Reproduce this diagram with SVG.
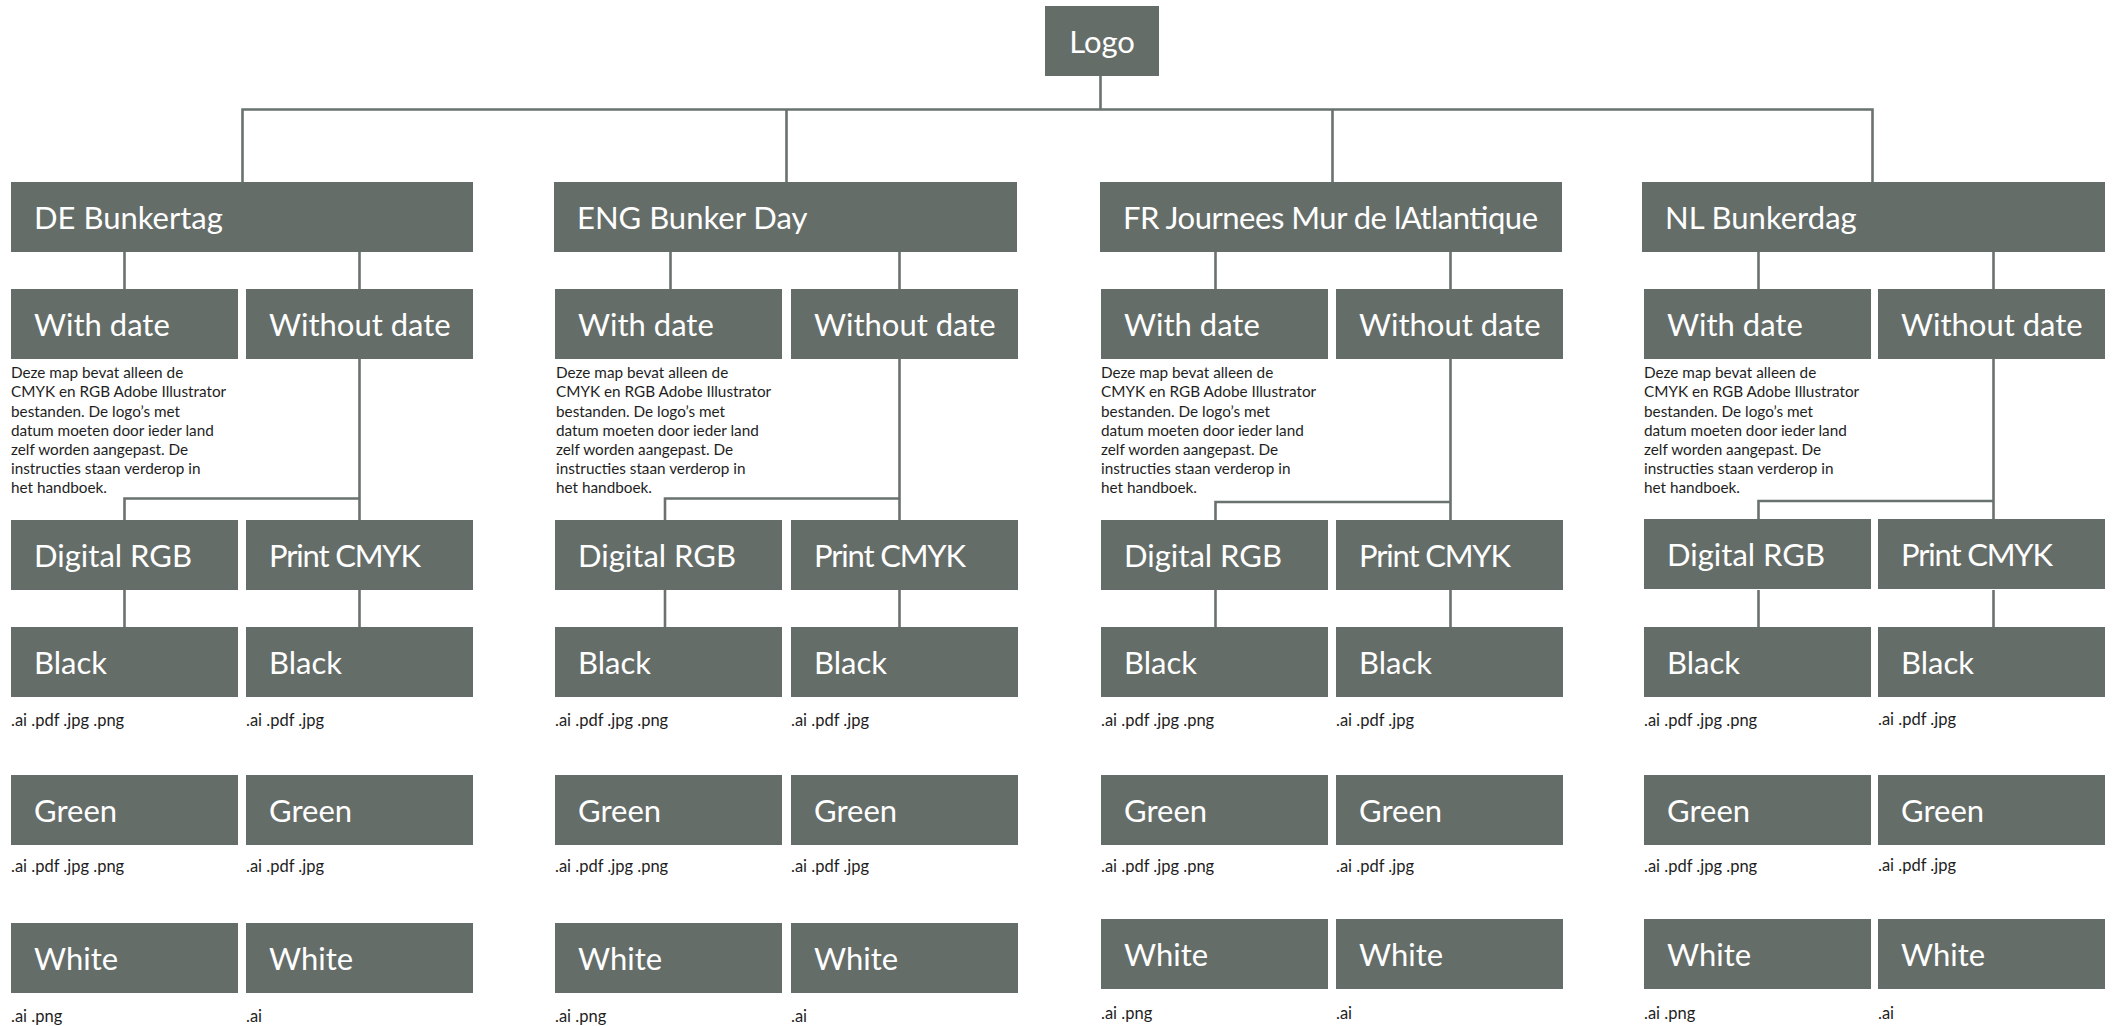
<svg xmlns="http://www.w3.org/2000/svg" width="2114" height="1026" viewBox="0 0 2114 1026">
<style>
.box{fill:#656d69}
.lbl{font-family:Lato,"Liberation Sans",sans-serif;font-size:31px;fill:#ffffff}
.desc{font-family:Lato,"Liberation Sans",sans-serif;font-size:15.3px;fill:#1e1e1e}
.ext{font-family:Lato,"Liberation Sans",sans-serif;font-size:16.5px;fill:#1e1e1e}
.conn{stroke:#6a726e;stroke-width:2.6;fill:none}
</style>
<rect width="2114" height="1026" fill="#ffffff"/>
<g id="connectors">
<path class="conn" d="M1100.5,76 V109.5 M242.5,182 V109.5 H1872.5 V182 M786.5,109.5 V182 M1332.5,109.5 V182"/>
<path class="conn" d="M124.5,252 V289 M359.5,252 V289 M359.5,359 V520 M124.5,520 V498.5 H359.5 M124.5,590 V627 M359.5,590 V627"/>
<path class="conn" d="M670.5,252 V289 M899.5,252 V289 M899.5,359 V520 M665,520 V498.5 H899.5 M665,590 V627 M899.5,590 V627"/>
<path class="conn" d="M1215.5,252 V289 M1450.5,252 V289 M1450.5,359 V520 M1215.5,520 V502 H1450.5 M1215.5,590 V627 M1450.5,590 V627"/>
<path class="conn" d="M1758.5,252 V289 M1993.5,252 V289 M1993.5,359 V520 M1758.5,520 V501 H1993.5 M1758.5,590 V627 M1993.5,590 V627"/>
</g>
<g id="logo"><rect class="box" x="1045" y="6" width="114" height="70"/><text class="lbl" x="1102" y="53" text-anchor="middle">Logo</text></g>

<g id="de"><rect class="box" x="11" y="182" width="462" height="70"/><text class="lbl" x="34" y="229">DE Bunkertag</text></g>
<g id="de-with"><rect class="box" x="11" y="289" width="227" height="70"/><text class="lbl" x="34" y="336">With date</text></g>
<g id="de-without"><rect class="box" x="246" y="289" width="227" height="70"/><text class="lbl" x="269" y="336">Without date</text></g>
<g id="de-note"><text class="desc" x="11" y="378.3"><tspan x="11">Deze map bevat alleen de</tspan><tspan x="11" dy="19.17">CMYK en RGB Adobe Illustrator</tspan><tspan x="11" dy="19.17">bestanden. De logo’s met</tspan><tspan x="11" dy="19.17">datum moeten door ieder land</tspan><tspan x="11" dy="19.17">zelf worden aangepast. De</tspan><tspan x="11" dy="19.17">instructies staan verderop in</tspan><tspan x="11" dy="19.17">het handboek.</tspan></text></g>
<g id="de-rgb"><rect class="box" x="11" y="520" width="227" height="70"/><text class="lbl" x="34" y="567">Digital RGB</text></g>
<g id="de-cmyk"><rect class="box" x="246" y="520" width="227" height="70"/><text class="lbl" x="269" y="567" textLength="152">Print CMYK</text></g>
<g id="de-rgb-black"><rect class="box" x="11" y="627" width="227" height="70"/><text class="lbl" x="34" y="674">Black</text><text class="ext" x="11" y="726">.ai .pdf .jpg .png</text></g>
<g id="de-cmyk-black"><rect class="box" x="246" y="627" width="227" height="70"/><text class="lbl" x="269" y="674">Black</text><text class="ext" x="246" y="726">.ai .pdf .jpg</text></g>
<g id="de-rgb-green"><rect class="box" x="11" y="775" width="227" height="70"/><text class="lbl" x="34" y="822">Green</text><text class="ext" x="11" y="872">.ai .pdf .jpg .png</text></g>
<g id="de-cmyk-green"><rect class="box" x="246" y="775" width="227" height="70"/><text class="lbl" x="269" y="822">Green</text><text class="ext" x="246" y="872">.ai .pdf .jpg</text></g>
<g id="de-rgb-white"><rect class="box" x="11" y="923" width="227" height="70"/><text class="lbl" x="34" y="970">White</text><text class="ext" x="11" y="1022">.ai .png</text></g>
<g id="de-cmyk-white"><rect class="box" x="246" y="923" width="227" height="70"/><text class="lbl" x="269" y="970">White</text><text class="ext" x="246" y="1022">.ai</text></g>

<g id="eng"><rect class="box" x="554" y="182" width="463" height="70"/><text class="lbl" x="577" y="229">ENG Bunker Day</text></g>
<g id="eng-with"><rect class="box" x="555" y="289" width="227" height="70"/><text class="lbl" x="578" y="336">With date</text></g>
<g id="eng-without"><rect class="box" x="791" y="289" width="227" height="70"/><text class="lbl" x="814" y="336">Without date</text></g>
<g id="eng-note"><text class="desc" x="556" y="378.3"><tspan x="556">Deze map bevat alleen de</tspan><tspan x="556" dy="19.17">CMYK en RGB Adobe Illustrator</tspan><tspan x="556" dy="19.17">bestanden. De logo’s met</tspan><tspan x="556" dy="19.17">datum moeten door ieder land</tspan><tspan x="556" dy="19.17">zelf worden aangepast. De</tspan><tspan x="556" dy="19.17">instructies staan verderop in</tspan><tspan x="556" dy="19.17">het handboek.</tspan></text></g>
<g id="eng-rgb"><rect class="box" x="555" y="520" width="227" height="70"/><text class="lbl" x="578" y="567">Digital RGB</text></g>
<g id="eng-cmyk"><rect class="box" x="791" y="520" width="227" height="70"/><text class="lbl" x="814" y="567" textLength="152">Print CMYK</text></g>
<g id="eng-rgb-black"><rect class="box" x="555" y="627" width="227" height="70"/><text class="lbl" x="578" y="674">Black</text><text class="ext" x="555" y="726">.ai .pdf .jpg .png</text></g>
<g id="eng-cmyk-black"><rect class="box" x="791" y="627" width="227" height="70"/><text class="lbl" x="814" y="674">Black</text><text class="ext" x="791" y="726">.ai .pdf .jpg</text></g>
<g id="eng-rgb-green"><rect class="box" x="555" y="775" width="227" height="70"/><text class="lbl" x="578" y="822">Green</text><text class="ext" x="555" y="872">.ai .pdf .jpg .png</text></g>
<g id="eng-cmyk-green"><rect class="box" x="791" y="775" width="227" height="70"/><text class="lbl" x="814" y="822">Green</text><text class="ext" x="791" y="872">.ai .pdf .jpg</text></g>
<g id="eng-rgb-white"><rect class="box" x="555" y="923" width="227" height="70"/><text class="lbl" x="578" y="970">White</text><text class="ext" x="555" y="1022">.ai .png</text></g>
<g id="eng-cmyk-white"><rect class="box" x="791" y="923" width="227" height="70"/><text class="lbl" x="814" y="970">White</text><text class="ext" x="791" y="1022">.ai</text></g>

<g id="fr"><rect class="box" x="1100" y="182" width="462" height="70"/><text class="lbl" x="1123" y="229" textLength="415">FR Journees Mur de lAtlantique</text></g>
<g id="fr-with"><rect class="box" x="1101" y="289" width="227" height="70"/><text class="lbl" x="1124" y="336">With date</text></g>
<g id="fr-without"><rect class="box" x="1336" y="289" width="227" height="70"/><text class="lbl" x="1359" y="336">Without date</text></g>
<g id="fr-note"><text class="desc" x="1101" y="378.3"><tspan x="1101">Deze map bevat alleen de</tspan><tspan x="1101" dy="19.17">CMYK en RGB Adobe Illustrator</tspan><tspan x="1101" dy="19.17">bestanden. De logo’s met</tspan><tspan x="1101" dy="19.17">datum moeten door ieder land</tspan><tspan x="1101" dy="19.17">zelf worden aangepast. De</tspan><tspan x="1101" dy="19.17">instructies staan verderop in</tspan><tspan x="1101" dy="19.17">het handboek.</tspan></text></g>
<g id="fr-rgb"><rect class="box" x="1101" y="520" width="227" height="70"/><text class="lbl" x="1124" y="567">Digital RGB</text></g>
<g id="fr-cmyk"><rect class="box" x="1336" y="520" width="227" height="70"/><text class="lbl" x="1359" y="567" textLength="152">Print CMYK</text></g>
<g id="fr-rgb-black"><rect class="box" x="1101" y="627" width="227" height="70"/><text class="lbl" x="1124" y="674">Black</text><text class="ext" x="1101" y="726">.ai .pdf .jpg .png</text></g>
<g id="fr-cmyk-black"><rect class="box" x="1336" y="627" width="227" height="70"/><text class="lbl" x="1359" y="674">Black</text><text class="ext" x="1336" y="726">.ai .pdf .jpg</text></g>
<g id="fr-rgb-green"><rect class="box" x="1101" y="775" width="227" height="70"/><text class="lbl" x="1124" y="822">Green</text><text class="ext" x="1101" y="872">.ai .pdf .jpg .png</text></g>
<g id="fr-cmyk-green"><rect class="box" x="1336" y="775" width="227" height="70"/><text class="lbl" x="1359" y="822">Green</text><text class="ext" x="1336" y="872">.ai .pdf .jpg</text></g>
<g id="fr-rgb-white"><rect class="box" x="1101" y="919" width="227" height="70"/><text class="lbl" x="1124" y="966">White</text><text class="ext" x="1101" y="1019">.ai .png</text></g>
<g id="fr-cmyk-white"><rect class="box" x="1336" y="919" width="227" height="70"/><text class="lbl" x="1359" y="966">White</text><text class="ext" x="1336" y="1019">.ai</text></g>

<g id="nl"><rect class="box" x="1642" y="182" width="463" height="70"/><text class="lbl" x="1665" y="229">NL Bunkerdag</text></g>
<g id="nl-with"><rect class="box" x="1644" y="289" width="227" height="70"/><text class="lbl" x="1667" y="336">With date</text></g>
<g id="nl-without"><rect class="box" x="1878" y="289" width="227" height="70"/><text class="lbl" x="1901" y="336">Without date</text></g>
<g id="nl-note"><text class="desc" x="1644" y="378.3"><tspan x="1644">Deze map bevat alleen de</tspan><tspan x="1644" dy="19.17">CMYK en RGB Adobe Illustrator</tspan><tspan x="1644" dy="19.17">bestanden. De logo’s met</tspan><tspan x="1644" dy="19.17">datum moeten door ieder land</tspan><tspan x="1644" dy="19.17">zelf worden aangepast. De</tspan><tspan x="1644" dy="19.17">instructies staan verderop in</tspan><tspan x="1644" dy="19.17">het handboek.</tspan></text></g>
<g id="nl-rgb"><rect class="box" x="1644" y="519" width="227" height="70"/><text class="lbl" x="1667" y="566">Digital RGB</text></g>
<g id="nl-cmyk"><rect class="box" x="1878" y="519" width="227" height="70"/><text class="lbl" x="1901" y="566" textLength="152">Print CMYK</text></g>
<g id="nl-rgb-black"><rect class="box" x="1644" y="627" width="227" height="70"/><text class="lbl" x="1667" y="674">Black</text><text class="ext" x="1644" y="726">.ai .pdf .jpg .png</text></g>
<g id="nl-cmyk-black"><rect class="box" x="1878" y="627" width="227" height="70"/><text class="lbl" x="1901" y="674">Black</text><text class="ext" x="1878" y="725">.ai .pdf .jpg</text></g>
<g id="nl-rgb-green"><rect class="box" x="1644" y="775" width="227" height="70"/><text class="lbl" x="1667" y="822">Green</text><text class="ext" x="1644" y="872">.ai .pdf .jpg .png</text></g>
<g id="nl-cmyk-green"><rect class="box" x="1878" y="775" width="227" height="70"/><text class="lbl" x="1901" y="822">Green</text><text class="ext" x="1878" y="871">.ai .pdf .jpg</text></g>
<g id="nl-rgb-white"><rect class="box" x="1644" y="919" width="227" height="70"/><text class="lbl" x="1667" y="966">White</text><text class="ext" x="1644" y="1019">.ai .png</text></g>
<g id="nl-cmyk-white"><rect class="box" x="1878" y="919" width="227" height="70"/><text class="lbl" x="1901" y="966">White</text><text class="ext" x="1878" y="1019">.ai</text></g>
</svg>
